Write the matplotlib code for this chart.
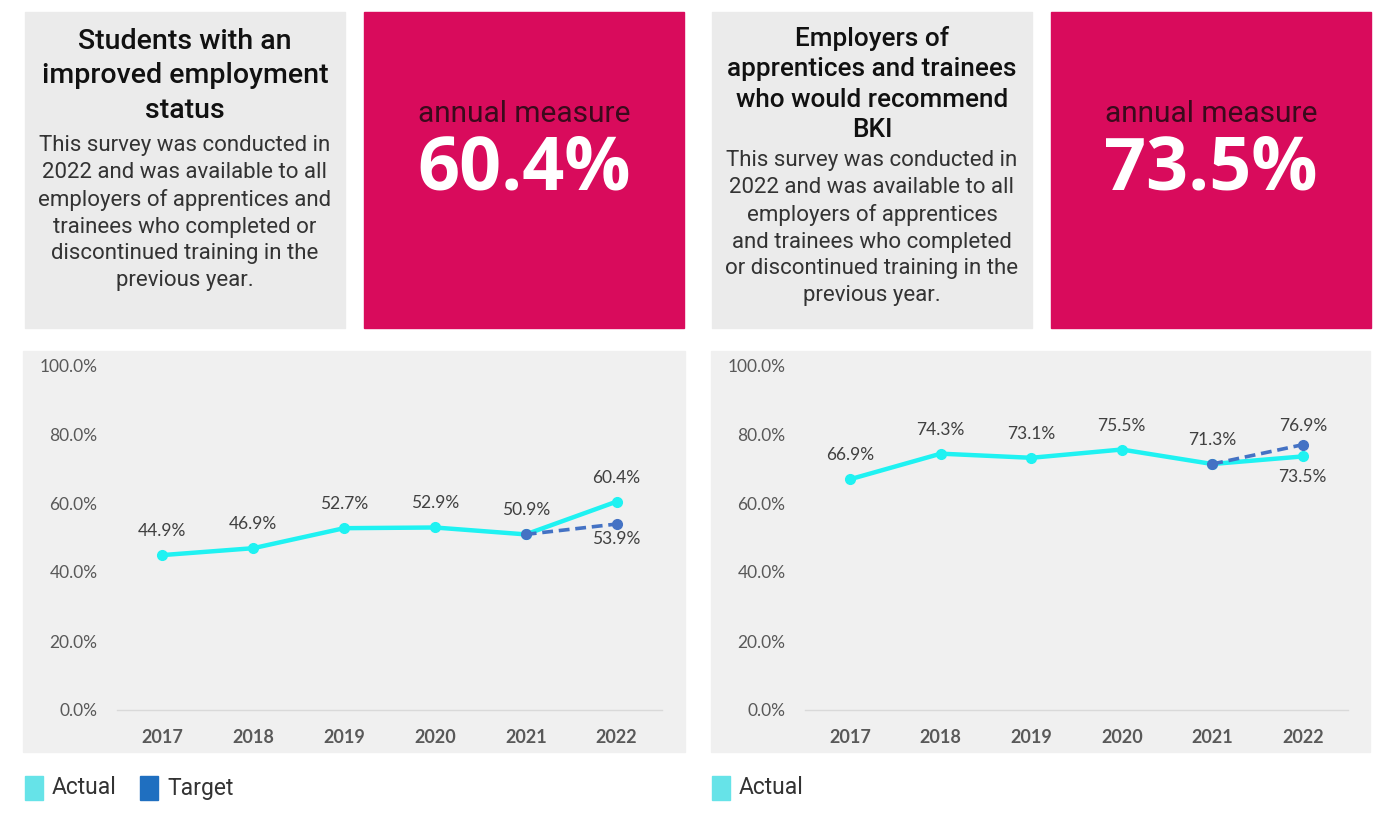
import matplotlib
matplotlib.use("Agg")
import matplotlib.pyplot as plt
from matplotlib.patches import Rectangle

W, H = 1389, 832

years = ['2017', '2018', '2019', '2020', '2021', '2022']
yticks = [0, 20, 40, 60, 80, 100]

left_actual = [44.9, 46.9, 52.7, 52.9, 50.9, 60.4]
left_target_years = ['2021', '2022']
left_target = [50.9, 53.9]

right_actual = [66.9, 74.3, 73.1, 75.5, 71.3, 73.5]
right_target_years = ['2021', '2022']
right_target = [71.3, 76.9]

left_title = "Students with an\nimproved employment\nstatus"
left_body = ("This survey was conducted in\n2022 and was available to all\n"
             "employers of apprentices and\ntrainees who completed or\n"
             "discontinued training in the\nprevious year.")
left_measure = "60.4%"

right_title = "Employers of\napprentices and trainees\nwho would recommend\nBKI"
right_body = ("This survey was conducted in\n2022 and was available to all\n"
              "employers of apprentices\nand trainees who completed\n"
              "or discontinued training in the\nprevious year.")
right_measure = "73.5%"

GRAY_BOX = '#ebebeb'
CHART_BG = '#f0f0f0'
MAGENTA = '#d90b5c'
CYAN = '#1ff2f2'
BLUE = '#4472c4'

fig = plt.figure(figsize=(W / 100, H / 100), dpi=100)
fig.patch.set_facecolor('white')


def fx(x):
    return x / W


def fy(y):
    return 1 - y / H


def box(x0, y0, x1, y1, color):
    fig.patches.append(Rectangle((fx(x0), fy(y1)), fx(x1) - fx(x0), fy(y0) - fy(y1),
                                 transform=fig.transFigure, color=color, zorder=0))


def ftext(x, y, s, **kw):
    fig.text(fx(x), fy(y), s, transform=fig.transFigure, **kw)


def info_panel(x0, title, title_y, title_fs, title_ls, body, body_y):
    box(x0, 12, x0 + 320, 328, GRAY_BOX)
    cx = x0 + 160
    ftext(cx, title_y, title, ha='center', va='top', fontsize=title_fs, family='Roboto',
          fontweight='medium', color='#111111', linespacing=title_ls)
    ftext(cx, body_y, body, ha='center', va='top', fontsize=16, family='Roboto',
          color='#333333', linespacing=1.36)


def measure_panel(x0, value):
    box(x0, 12, x0 + 320, 328, MAGENTA)
    cx = x0 + 160
    ftext(cx, 114, "annual measure", ha='center', va='center', fontsize=21.5,
          family='Roboto', color='#3a0a1c')
    ftext(cx, 171, value, ha='center', va='center', fontsize=53,
          family='Open Sans', fontweight='bold', color='white')


def chart(x0, x1, ax_left, ax_right, actual, t_years, target, labels):
    box(x0, 351, x1, 752, CHART_BG)
    ax = fig.add_axes([fx(ax_left), fy(710), fx(ax_right) - fx(ax_left), fy(365) - fy(710)])
    ax.set_zorder(2)
    ax.set_facecolor('none')
    xs = list(range(len(years)))
    ax.plot(xs, actual, color=CYAN, lw=3.2, marker='o', ms=7, zorder=3,
            solid_capstyle='round', clip_on=False)
    tx = [years.index(y) for y in t_years]
    ax.plot(tx, target, color=BLUE, lw=2.6, ls=(0, (3, 1.6)), marker='o', ms=7, zorder=4,
            clip_on=False)
    for (i, v, dy) in labels:
        ax.annotate(f"{v:.1f}%", (i, v), xytext=(0, dy), textcoords='offset pixels',
                    ha='center', va='center', fontsize=12.5, family='Lato', color='#404040')
    ax.set_xlim(-0.5, len(years) - 0.5)
    ax.set_ylim(0, 100)
    ax.set_xticks(xs)
    ax.set_xticklabels(years, fontsize=13, family='Lato', fontweight='bold', color='#595959')
    ax.set_yticks(yticks)
    ax.set_yticklabels([f"{v:.1f}%" for v in yticks], fontsize=12.5, family='Lato',
                       color='#595959')
    ax.tick_params(length=0)
    ax.tick_params(axis='x', pad=14)
    ax.tick_params(axis='y', pad=14)
    for s in ['top', 'right', 'left']:
        ax.spines[s].set_visible(False)
    ax.spines['bottom'].set_color('#d9d9d9')
    ax.spines['bottom'].set_linewidth(1)
    return ax


def legend_item(x, label, color):
    box(x, 776, x + 18, 800, color)
    ftext(x + 27, 788, label, ha='left', va='center', fontsize=16.5, family='Roboto',
          color='#333333')


# left half
info_panel(25, left_title, 28, 20.5, 1.35, left_body, 135)
measure_panel(364, left_measure)
chart(23, 685, 117, 662, left_actual, left_target_years, left_target,
      [(0, left_actual[0], 24), (1, left_actual[1], 24), (2, left_actual[2], 24),
       (3, left_actual[3], 24), (4, left_actual[4], 24), (5, left_actual[5], 24),
       (5, left_target[1], -15)])
legend_item(25, "Actual", '#66e3e8')
legend_item(140, "Target", '#1f6fc0')

# right half
info_panel(712, right_title, 26, 18.8, 1.34, right_body, 150)
measure_panel(1051, right_measure)
chart(711, 1370, 805, 1348, right_actual, right_target_years, right_target,
      [(0, right_actual[0], 24), (1, right_actual[1], 24), (2, right_actual[2], 24),
       (3, right_actual[3], 24), (4, right_actual[4], 24), (5, right_actual[5], -21),
       (5, right_target[1], 19)])
legend_item(712, "Actual", '#66e3e8')

fig.savefig('out.png', dpi=100, facecolor='white')
